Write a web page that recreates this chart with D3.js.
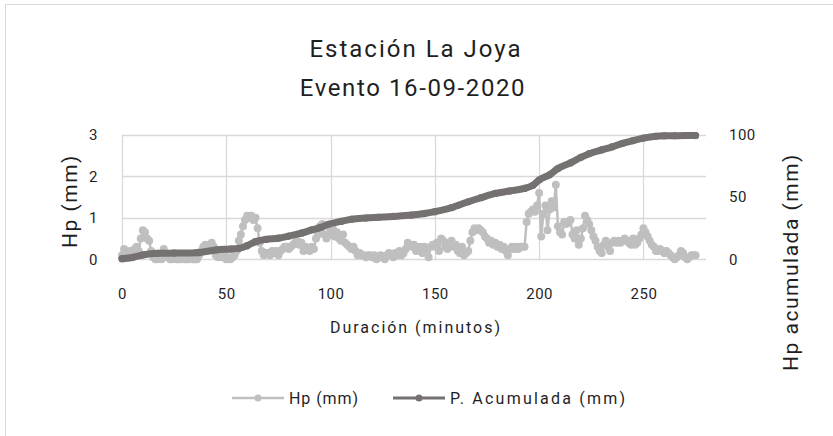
<!DOCTYPE html>
<html><head><meta charset="utf-8">
<script src="https://cdn.jsdelivr.net/npm/d3@7"></script>
<style>
html,body{margin:0;padding:0;background:#fff;overflow:hidden}
text{font-family:Roboto,"Noto Sans",sans-serif;fill:#1f1f1f}
</style></head>
<body><svg id="c" width="833" height="436"></svg>
<script>
const titleLines = ["Estación La Joya", "Evento 16-09-2020"];
const xTicks = [0, 50, 100, 150, 200, 250];
const yLeftTicks = [0, 1, 2, 3];
const yRightTicks = [0, 50, 100];
const seriesNames = ["Hp (mm)", "P. Acumulada (mm)"];
// Hp (mm) per minute, t = 0..275
const hp = [
0.1,0.25,0.2,0.15,0.2,0.1,0.25,0.3,0.2,0.5,
0.7,0.65,0.5,0.45,0.2,0.05,0,0,0.05,0,
0.25,0.15,0.05,0,0,0.05,0,0,0,0.05,
0,0,0,0.05,0,0,0,0.1,0.2,0.3,
0.35,0.3,0.35,0.4,0.3,0.1,0.05,0.2,0.05,0.1,
0,0.05,0,0.05,0.1,0.2,0.45,0.6,0.8,0.95,
1.05,1.0,1.05,0.95,1.0,0.75,0.4,0.2,0.1,0.15,
0.15,0.1,0.2,0.15,0.2,0.1,0.2,0.25,0.3,0.3,
0.25,0.3,0.35,0.4,0.45,0.35,0.4,0.2,0.3,0.25,
0.2,0.3,0.25,0.5,0.6,0.8,0.85,0.6,0.5,0.8,
0.6,0.75,0.55,0.65,0.5,0.45,0.6,0.4,0.35,0.3,
0.25,0.3,0.2,0.1,0.15,0.1,0.1,0.05,0.1,0.1,
0.05,0.1,0,0.05,0.1,0.05,0,0.1,0.15,0.1,
0.05,0.15,0.1,0.2,0.1,0.15,0.25,0.4,0.35,0.3,
0.35,0.2,0.25,0.3,0.15,0.3,0.25,0.05,0.3,0.35,
0.3,0.4,0.2,0.5,0.45,0.3,0.25,0.4,0.45,0.3,
0.35,0.2,0.15,0.3,0.1,0.15,0.2,0.45,0.65,0.75,
0.7,0.75,0.7,0.65,0.55,0.5,0.4,0.45,0.35,0.4,
0.3,0.35,0.25,0.3,0.2,0.1,0.25,0.3,0.25,0.3,
0.25,0.3,0.3,0.3,0.9,1.1,1.15,1.2,1.15,1.3,
1.6,0.55,1.1,1.3,0.7,1.2,1.4,1.25,1.8,0.8,
0.65,0.6,0.9,0.85,0.9,0.95,0.6,0.5,0.7,0.35,
0.5,0.75,1.05,0.95,0.85,0.7,0.55,0.45,0.3,0.2,
0.15,0.35,0.45,0.3,0.2,0.4,0.45,0.4,0.45,0.4,
0.45,0.5,0.45,0.4,0.35,0.5,0.35,0.4,0.5,0.6,
0.75,0.65,0.55,0.45,0.35,0.3,0.2,0.2,0.25,0.2,
0.15,0.2,0.15,0.1,0.05,0,0.05,0.1,0.2,0.15,
0.05,0,0.05,0.1,0.1,0.1
];
// P. Acumulada (mm), read at selected minutes
const accMinutes = [0,5,10,17,25,36,45,52,56,60,64,69,75,80,86,91,95,99,105,110,117,123,130,139,145,150,158,166,172,179,186,193,197,200,205,209,215,220,224,230,235,240,245,250,256,260,265,270,275];
const accValues  = [0.5,1.5,3.5,4.8,5,5.3,7.5,8.3,8.8,11,14.2,16,17,18.7,21,23.6,25.5,28.2,30.5,32.2,33.2,33.8,34.5,35.6,36.8,38.3,41.5,46.3,49.5,53,55,57,59.5,63.8,68,73,77.5,82,85,88,90.5,93.3,95.5,97.5,99,99.3,99.4,99.5,99.5];

const svg = d3.select("#c");
const W = 833, H = 436;
svg.append("rect").attr("x",5.5).attr("y",4.5).attr("width",W).attr("height",H)
  .attr("fill","#fff").attr("stroke","#d9d9d9").attr("stroke-width",1);

const x = d3.scaleLinear().domain([0,280]).range([122,706]);
const yL = d3.scaleLinear().domain([0,3]).range([259.3,135]);
const yR = d3.scaleLinear().domain([0,100]).range([259.3,135]);

const grid = svg.append("g");
grid.selectAll("line.h").data(yLeftTicks).join("line")
  .attr("x1",x(0)).attr("x2",x(280)).attr("y1",d=>Math.round(yL(d))+0.5).attr("y2",d=>Math.round(yL(d))+0.5)
  .attr("stroke","#d9d9d9").attr("stroke-width",1.3);
grid.selectAll("line.v").data(xTicks).join("line")
  .attr("y1",yL(0)).attr("y2",yL(3)).attr("x1",d=>Math.round(x(d))+0.5).attr("x2",d=>Math.round(x(d))+0.5)
  .attr("stroke","#d9d9d9").attr("stroke-width",1.3);

const fs = 15;
const ax = svg.append("g").attr("transform",`translate(0,${yL(0)})`)
  .call(d3.axisBottom(x).tickValues(xTicks).tickSize(0).tickPadding(29));
const axL = svg.append("g").attr("transform",`translate(${x(0)},0)`)
  .call(d3.axisLeft(yL).tickValues(yLeftTicks).tickSize(0).tickPadding(24).tickFormat(d3.format("d")));
const axR = svg.append("g").attr("transform",`translate(${x(280)},0)`)
  .call(d3.axisRight(yR).tickValues(yRightTicks).tickSize(0).tickPadding(23).tickFormat(d3.format("d")));
[ax,axL,axR].forEach(g=>{
  g.select(".domain").remove();
  g.selectAll("text").style("font-family","Roboto, sans-serif").style("font-size",fs+"px").style("font-weight",400).attr("fill","#1f1f1f").style("letter-spacing","0.5px");
});

const hpData = hp.map((v,i)=>({t:i,v}));
const accData = accMinutes.map((t,i)=>({t,v:accValues[i]}));
const cHp = "#bfbfbf", cAcc = "#767171";
svg.append("path").datum(hpData)
  .attr("d",d3.line().x(d=>x(d.t)).y(d=>yL(d.v)))
  .attr("fill","none").attr("stroke",cHp).attr("stroke-width",2.5).attr("stroke-linejoin","round");
svg.append("g").selectAll("circle").data(hpData).join("circle")
  .attr("cx",d=>x(d.t)).attr("cy",d=>yL(d.v)).attr("r",4).attr("fill",cHp);
svg.append("path").datum(accData)
  .attr("d",d3.line().curve(d3.curveMonotoneX).x(d=>x(d.t)).y(d=>yR(d.v)))
  .attr("fill","none").attr("stroke",cAcc).attr("stroke-width",7).attr("stroke-linejoin","round").attr("stroke-linecap","round");
svg.append("g").selectAll("circle").data(accData).join("circle")
  .attr("cx",d=>x(d.t)).attr("cy",d=>yR(d.v)).attr("r",3.6).attr("fill",cAcc);

svg.append("text").attr("x",416).attr("y",57).attr("text-anchor","middle")
  .style("font-size","24px").style("letter-spacing","2px").text(titleLines[0]);
svg.append("text").attr("x",413).attr("y",96).attr("text-anchor","middle")
  .style("font-size","24px").style("letter-spacing","1.6px").text(titleLines[1]);

svg.append("text").attr("x",330).attr("y",333).attr("textLength",170).attr("lengthAdjust","spacing")
  .style("font-size","16px").text("Duración (minutos)");
svg.append("text").attr("transform","translate(77,201) rotate(-90)").attr("text-anchor","middle")
  .style("font-size","21px").style("letter-spacing","1.5px").text("Hp (mm)");
svg.append("text").attr("transform","translate(798,262) rotate(-90)").attr("text-anchor","middle")
  .style("font-size","21px").style("letter-spacing","1.5px").text("Hp acumulada (mm)");

const leg = [{x:232,c:cHp,w:2.5,t:seriesNames[0],L:69},{x:393,c:cAcc,w:3,t:seriesNames[1],L:175}];
const lg = svg.append("g");
leg.forEach(l=>{
  lg.append("line").attr("x1",l.x).attr("x2",l.x+52).attr("y1",398).attr("y2",398).attr("stroke",l.c).attr("stroke-width",l.w);
  lg.append("circle").attr("cx",l.x+26).attr("cy",398).attr("r",3.5).attr("fill",l.c);
  lg.append("text").attr("x",l.x+57).attr("y",404).attr("textLength",l.L).attr("lengthAdjust","spacing")
    .style("font-size","16px").text(l.t);
});
</script></body></html>
